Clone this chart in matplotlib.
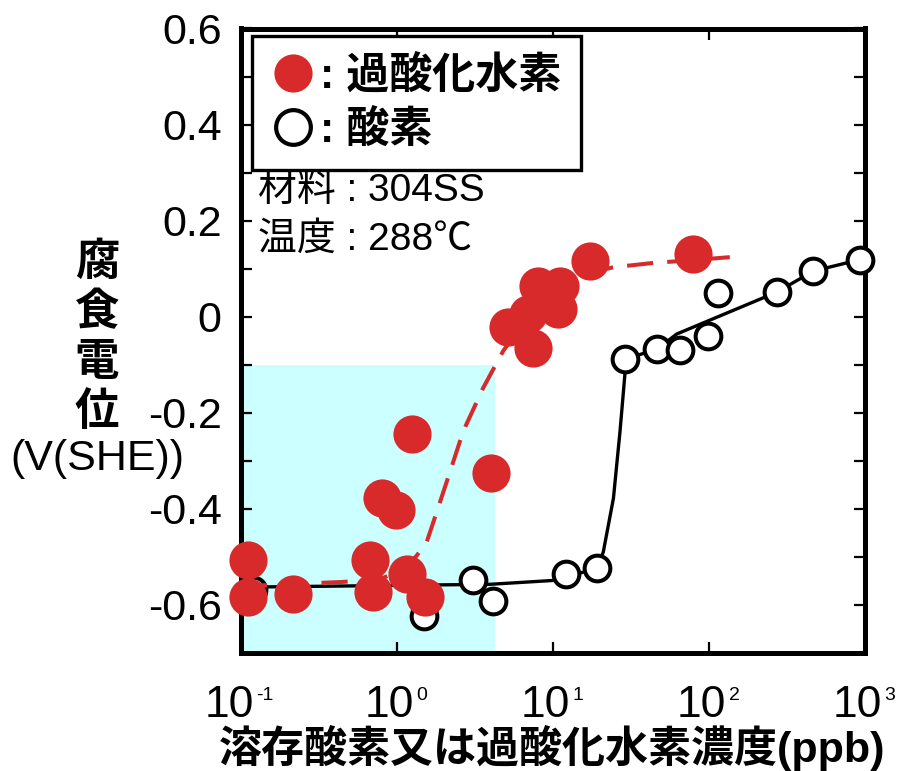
import matplotlib.pyplot as plt
from matplotlib.lines import Line2D

# 過酸化水素 (filled red)
h2o2_conc = [0.111, 0.111, 0.214, 0.671, 0.705, 0.798, 0.986, 1.24, 1.154, 1.51,
             3.99, 5.17, 7.48, 8.05, 11.1, 10.8, 6.92, 17.3, 79.3]
h2o2_ecp = [-0.506, -0.584, -0.577, -0.506, -0.573, -0.378, -0.402, -0.244, -0.535, -0.584,
            -0.326, -0.022, -0.066, 0.064, 0.064, 0.016, 0.006, 0.117, 0.131]

# guide curve for H2O2 data (dashed)
h2o2_fit_x = [0.1, 0.45, 0.78, 1.12, 1.34, 1.55, 1.80, 2.19, 2.66, 3.57, 4.80,
              6.9, 11.1, 17.3, 24.4, 44, 80, 136]
h2o2_fit_y = [-0.561, -0.552, -0.546, -0.525, -0.497, -0.469, -0.406, -0.322, -0.238,
              -0.148, -0.071, 0.0, 0.060, 0.092, 0.103, 0.112, 0.118, 0.124]

# 酸素 (open circles)
o2_conc = [0.119, 1.496, 3.08, 4.14, 12.1, 19.1, 29.0, 46.2, 65.2, 99, 114.8, 271, 467, 929]
o2_ecp = [-0.569, -0.622, -0.549, -0.591, -0.535, -0.524, -0.088, -0.068, -0.070,
          -0.040, 0.049, 0.051, 0.095, 0.119]

# guide line for O2 data (solid)
o2_fit_x = [0.1, 3.95, 10.0, 19.1, 21.0, 24.4, 26.9, 28.9, 29.0, 46.2, 62.1, 271, 467, 929]
o2_fit_y = [-0.563, -0.557, -0.549, -0.524, -0.490, -0.378, -0.238, -0.120, -0.088,
            -0.068, -0.036, 0.051, 0.095, 0.119]

# shaded region
region_x = [0.1, 4.25]
region_low, region_high = -0.7, -0.1

x_ticks = [0.1, 1, 10, 100, 1000]
x_exps = ["-1", "0", "1", "2", "3"]
y_ticks = [-0.6, -0.4, -0.2, 0, 0.2, 0.4, 0.6]
y_labels = ["-0.6", "-0.4", "-0.2", "0", "0.2", "0.4", "0.6"]

red = "#d82a2a"
latin = ["Liberation Sans", "Noto Sans CJK JP", "DejaVu Sans"]
cjk = ["Noto Sans CJK JP", "DejaVu Sans"]

fig = plt.figure(figsize=(9.02, 7.71), dpi=100)
ax = fig.add_axes([241 / 902, 1 - 653 / 771, 624 / 902, 624.5 / 771])

ax.fill_between(region_x, region_low, region_high, color="#ccffff", lw=0, zorder=0)

ax.plot(o2_fit_x, o2_fit_y, color="black", lw=2.4, zorder=2, solid_joinstyle="round")
ax.plot(o2_conc, o2_ecp, "o", ms=18.5, mfc="white", mec="black", mew=2.9,
        zorder=3, clip_on=False)
ax.plot(h2o2_fit_x, h2o2_fit_y, color=red, lw=2.9, dashes=(6.5, 3.5), zorder=4)
ax.plot(h2o2_conc, h2o2_ecp, "o", ms=27.5, color=red, mec=red, mew=0,
        zorder=5, clip_on=False)

ax.set_xscale("log")
ax.set_xlim(0.1, 1000)
ax.set_ylim(-0.7, 0.6)
ax.set_xticks(x_ticks)
ax.set_xticklabels([])
ax.minorticks_off()
ax.set_yticks(y_ticks)
ax.set_yticks([-0.5, -0.3, -0.1, 0.1, 0.3, 0.5], minor=True)
ax.set_yticklabels(y_labels, family=latin, fontsize=31)
ax.tick_params(which="both", direction="in", top=True, right=True,
               width=1.6, length=8, pad=14)
for sp in ax.spines.values():
    sp.set_linewidth(3.6)

# x tick labels: "10" with a small superscript exponent
for xt, ex in zip(x_ticks, x_exps):
    wsup = 18 if len(ex) > 1 else 10
    right = (46 + 3 + wsup) / 2 - 3 - wsup
    ax.annotate("10", xy=(xt, 0), xycoords=("data", "axes fraction"),
                xytext=(right * 0.72, -32 * 0.72), textcoords="offset points",
                ha="right", va="top", family=latin, fontsize=32)
    ax.annotate(ex, xy=(xt, 0), xycoords=("data", "axes fraction"),
                xytext=((right + 3) * 0.72, -34 * 0.72), textcoords="offset points",
                ha="left", va="top", family=latin, fontsize=14)

fig.text(552 / 902, 1 - 748 / 771, "溶存酸素又は過酸化水素濃度(ppb)",
         family=latin, fontsize=31, fontweight="bold", ha="center", va="center")

for ch, yp in zip("腐食電位", [262, 312, 362, 412]):
    fig.text(97 / 902, 1 - yp / 771, ch, family=cjk, fontsize=32,
             fontweight="bold", ha="center", va="center")
fig.text(97 / 902, 1 - 459 / 771, "(V(SHE))", family=latin, fontsize=31,
         ha="center", va="center")

ax.text(0.027, 0.740, "材料 : 304SS", transform=ax.transAxes, family=latin,
        fontsize=28, ha="left", va="center")
ax.text(0.027, 0.661, "温度 : 288℃", transform=ax.transAxes, family=latin,
        fontsize=28, ha="left", va="center")

handles = [
    Line2D([], [], ls="none", marker="o", ms=27.5, color=red, mew=0),
    Line2D([], [], ls="none", marker="o", ms=25, mfc="white", mec="black", mew=3),
]
leg = ax.legend(handles, [": 過酸化水素", ": 酸素"], loc="upper left",
                bbox_to_anchor=(0.017, 0.988), borderaxespad=0,
                prop={"family": latin, "size": 31, "weight": "bold"},
                frameon=True, fancybox=False, framealpha=1, edgecolor="black",
                handlelength=1.0, handletextpad=0.15, borderpad=0.45,
                labelspacing=0.3)
leg.get_frame().set_linewidth(2.4)

fig.savefig("out.png", dpi=100)
